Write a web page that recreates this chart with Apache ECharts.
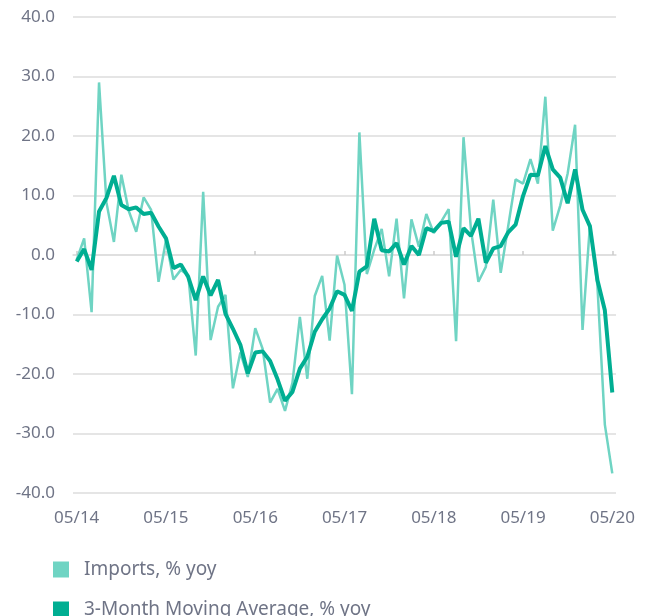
<!DOCTYPE html>
<html>
<head>
<meta charset="utf-8">
<script src="https://cdn.jsdelivr.net/npm/echarts@6/dist/echarts.min.js"></script>
<style>
  html, body { margin: 0; padding: 0; background: #fff; }
  #chart { width: 654px; height: 616px; }
</style>
</head>
<body>
<div id="chart"></div>
<script>
// Monthly data, 05/14 .. 05/20
var startYear = 14, startMonth = 5, monthCount = 73;

var imports = [
    -0.8, 2.8, -9.6, 29.0, 8.8, 2.2, 13.5, 7.4, 3.9, 9.7, 7.6, -4.5,
    2.5, -4.1, -2.5, -3.4, -16.9, 10.6, -14.3, -8.7, -6.7, -22.4, -16.4, -20.5,
    -12.3, -15.8, -24.8, -22.5, -26.2, -21.5, -10.4, -20.8, -6.9, -3.5, -14.4, -0.1,
    -5.0, -23.4, 20.6, -3.2, 0.9, 4.4, -3.6, 6.1, -7.3, 6.0, 1.4, 6.9,
    3.7, 5.6, 7.7, -14.5, 19.8, 4.3, -4.5, -2.0, 9.3, -3.0, 4.8, 12.7,
    12.0, 16.1, 12.0, 26.6, 4.1, 8.3, 13.7, 21.9, -12.6, 5.1, -5.1, -28.5,
    -36.7
];

var movingAvg = [
    -1.1, 1.0, -2.5, 7.3, 9.6, 13.3, 8.4, 7.7, 8.0, 6.9, 7.1, 4.8,
    2.8, -2.2, -1.6, -3.7, -7.6, -3.6, -6.8, -4.2, -9.9, -12.4, -15.1, -19.9,
    -16.4, -16.2, -17.8, -20.9, -24.5, -23.0, -19.1, -17.1, -12.9, -10.8, -9.0, -6.1,
    -6.7, -9.4, -2.8, -1.9, 6.1, 0.8, 0.6, 2.0, -1.6, 1.5, 0.0, 4.5,
    4.0, 5.4, 5.6, -0.3, 4.5, 3.2, 6.1, -1.3, 1.1, 1.5, 3.8, 5.1,
    9.9, 13.5, 13.4, 18.3, 14.4, 13.0, 8.7, 14.4, 7.6, 4.8, -4.2, -9.3,
    -23.1
];

var tickLabels = ['05/14', '05/15', '05/16', '05/17', '05/18', '05/19', '05/20'];

// Month categories as MM/YY
var categories = [];
for (var i = 0; i < monthCount; i++) {
    var m = (startMonth - 1 + i) % 12 + 1;
    var y = startYear + Math.floor((startMonth - 1 + i) / 12);
    categories.push((m < 10 ? '0' + m : '' + m) + '/' + y);
}

var chart = echarts.init(document.getElementById('chart'));

// Styles
var fontFamily = '"Noto Sans", sans-serif',
    labelColor = '#6f7486',
    gridColor = '#dddddd',
    importsColor = '#6fd4c3',
    avgColor = '#00ae92';

// One legend per row so the bottom one can run off the page like the original
var legendBase = {
    left: 48,
    icon: 'rect',
    itemWidth: 16,
    itemHeight: 16,
    itemGap: 20,
    textStyle: { color: labelColor, fontSize: 19, padding: [0, 0, 0, 10] }
};

chart.setOption({
    animation: false,
    textStyle: { fontFamily: fontFamily },
    grid: {
        left: 73,
        right: 38,
        top: 17,
        bottom: 123
    },
    legend: [
        Object.assign({}, legendBase, { top: 555, data: ['Imports, % yoy'] }),
        Object.assign({}, legendBase, { top: 595, data: ['3-Month Moving Average, % yoy'] })
    ],
    xAxis: [
        {
            type: 'category',
            data: categories,
            boundaryGap: true,
            position: 'bottom',
            axisLine: { show: false, onZero: false },
            axisTick: { show: false },
            axisLabel: {
                color: labelColor,
                fontSize: 17,
                margin: 17,
                interval: function (idx, value) {
                    return tickLabels.indexOf(value) !== -1;
                }
            },
            splitLine: { show: false }
        },
        {
            type: 'category',
            data: categories,
            boundaryGap: true,
            axisLine: { show: true, onZero: true, lineStyle: { color: gridColor, width: 1.5 } },
            axisTick: {
                show: true,
                alignWithLabel: true,
                length: 4,
                interval: 11,
                lineStyle: { color: '#cccccc', width: 1.5 }
            },
            axisLabel: { show: false },
            splitLine: { show: false }
        }
    ],
    yAxis: {
        type: 'value',
        min: -40,
        max: 40,
        interval: 10,
        axisLine: { show: false },
        axisTick: { show: false },
        axisLabel: {
            color: labelColor,
            fontSize: 17,
            margin: 18,
            formatter: function (v) { return v.toFixed(1); }
        },
        splitLine: { lineStyle: { color: gridColor, width: 1.5 } }
    },
    series: [
        {
            name: 'Imports, % yoy',
            type: 'line',
            data: imports,
            symbol: 'none',
            itemStyle: { color: importsColor },
            lineStyle: { color: importsColor, width: 2.5 },
            z: 2
        },
        {
            name: '3-Month Moving Average, % yoy',
            type: 'line',
            data: movingAvg,
            symbol: 'none',
            itemStyle: { color: avgColor },
            lineStyle: { color: avgColor, width: 4 },
            z: 3
        }
    ]
});
</script>
</body>
</html>
